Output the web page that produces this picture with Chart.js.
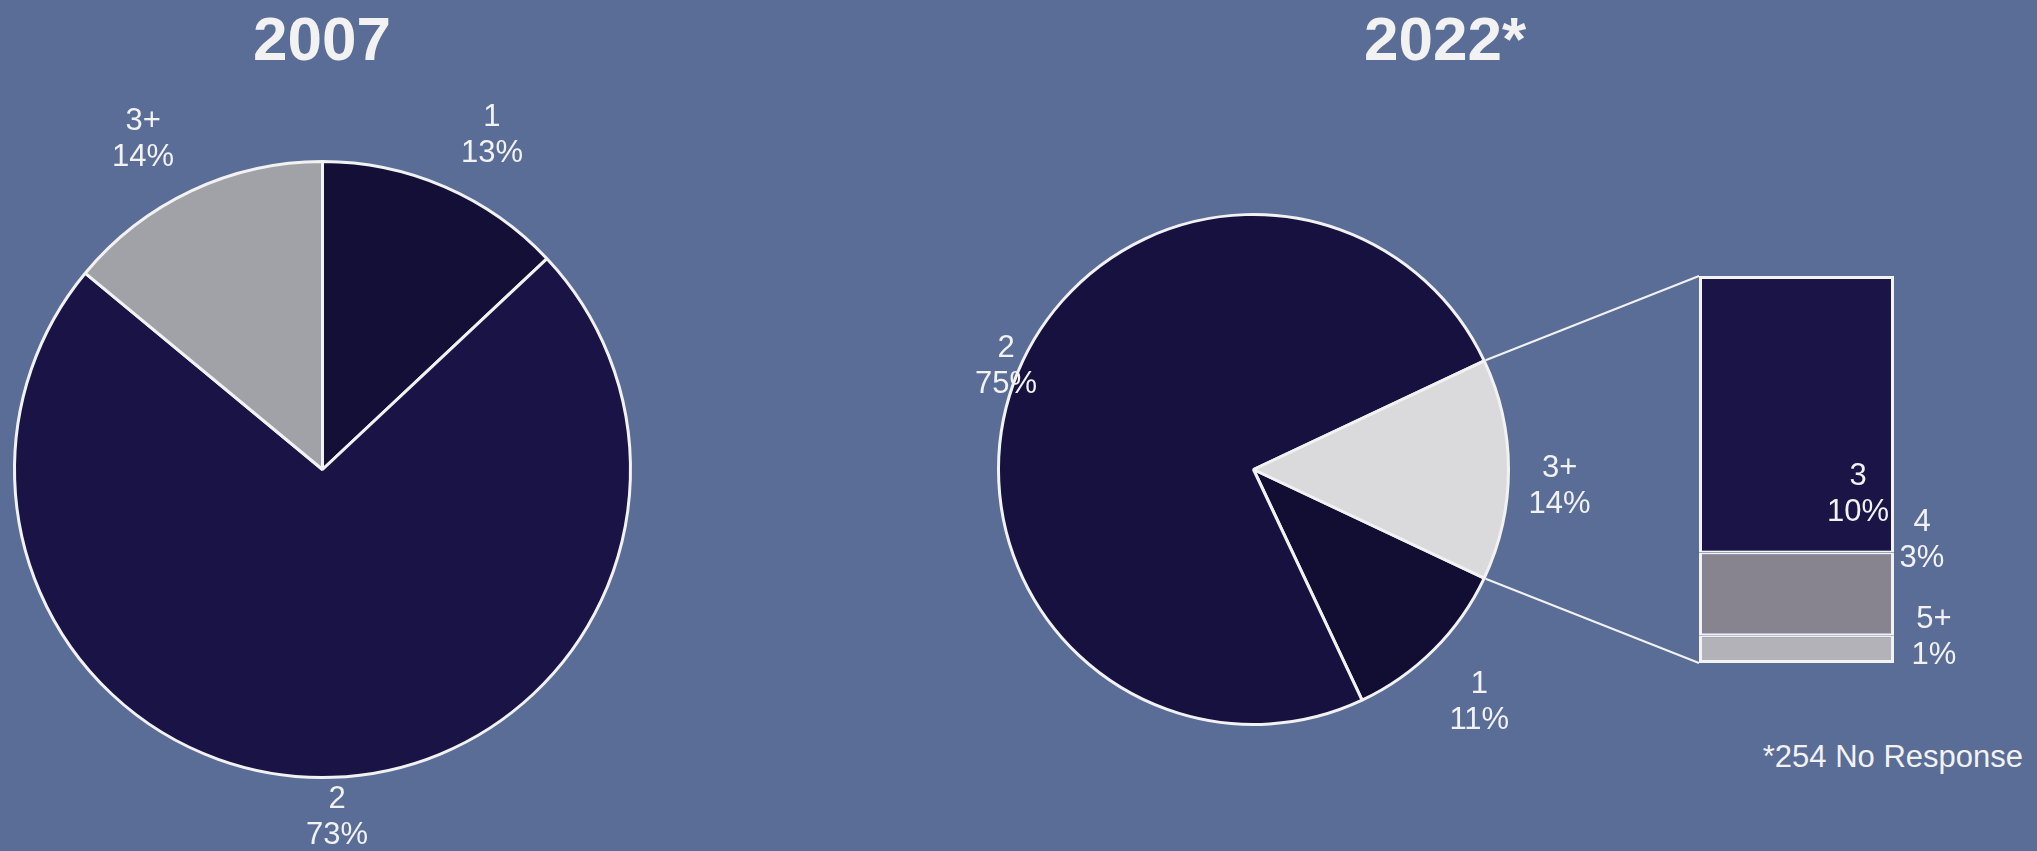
<!DOCTYPE html>
<html>
<head>
<meta charset="utf-8">
<script src="https://cdn.jsdelivr.net/npm/chart.js@4"></script>
<style>
  html, body { margin: 0; padding: 0; }
  body { width: 2037px; height: 851px; background: #5a6d96; position: relative; overflow: hidden;
         font-family: "Liberation Sans", Arial, sans-serif; color: #f2f2f2; }
  canvas { position: absolute; }
  .title { position: absolute; top: 8px; font-weight: bold; font-size: 62px; line-height: 62px;
           transform: translateX(-50%); white-space: nowrap; }
  #note { position: absolute; right: 14px; top: 741px; font-size: 31px; line-height: 31px; white-space: nowrap; }
</style>
</head>
<body>
<div class="title" style="left:322px">2007</div>
<div class="title" style="left:1445px">2022*</div>
<div id="note">*254 No Response</div>
<canvas id="pie2007" width="645" height="851" style="left:0;top:0"></canvas>
<canvas id="pie2022" width="707" height="851" style="left:900px;top:0"></canvas>
<canvas id="bar2022" width="300" height="440" style="left:1673px;top:250px"></canvas>
<canvas id="links" width="2037" height="851" style="left:0;top:0"></canvas>
<script>
// data (percent of households)
const labels2007 = ["1", "2", "3+"];
const values2007 = [13, 73, 14];
const labels2022 = ["1", "2", "3+"];
const values2022 = [11, 75, 14];
// breakdown of 3+ in 2022, bottom to top
const labelsSplit = ["5+", "4", "3"];
const valuesSplit = [1, 3, 10];

const white = "#f2f2f2";
Chart.defaults.font.family = '"Liberation Sans", Arial, sans-serif';

// two-line "name / value%" labels around the pie
const pieLabels = {
  id: "pieLabels",
  afterDatasetsDraw(chart, args, opts) {
    const ctx = chart.ctx;
    const ds = chart.data.datasets[0];
    ctx.save();
    ctx.fillStyle = white;
    ctx.font = '31px "Liberation Sans", Arial, sans-serif';
    ctx.textAlign = "center";
    ctx.textBaseline = "middle";
    chart.getDatasetMeta(0).data.forEach((arc, i) => {
      const [shift, factor] = opts.place[i];
      const a = (arc.startAngle + arc.endAngle) / 2 + shift * Math.PI / 180;
      const r = (arc.outerRadius + 1.5) * factor;
      const x = arc.x + Math.cos(a) * r;
      const y = arc.y + Math.sin(a) * r;
      ctx.fillText(chart.data.labels[i], x, y - 18);
      ctx.fillText(ds.data[i] + "%", x, y + 18);
    });
    ctx.restore();
  }
};

// labels for the stacked column
const barLabels = {
  id: "barLabels",
  afterDatasetsDraw(chart, args, opts) {
    const ctx = chart.ctx;
    ctx.save();
    ctx.fillStyle = white;
    ctx.font = '31px "Liberation Sans", Arial, sans-serif';
    ctx.textAlign = "center";
    ctx.textBaseline = "middle";
    chart.data.datasets.forEach((ds, i) => {
      const el = chart.getDatasetMeta(i).data[0];
      const [dx, dy] = opts.place[i];
      const x = el.x + el.width / 2 + dx;
      const y = (el.y + el.base) / 2 + dy;
      ctx.fillText(ds.label, x, y - 18);
      ctx.fillText(ds.data[0] + "%", x, y + 18);
    });
    ctx.restore();
  }
};

function pieConfig(labels, values, colors, radius, rotation, place) {
  return {
    type: "pie",
    data: {
      labels: labels,
      datasets: [{ data: values, backgroundColor: colors, borderColor: white, borderWidth: 3 }]
    },
    options: {
      responsive: false,
      animation: false,
      events: [],
      rotation: rotation,
      radius: radius,
      layout: { padding: { top: 88 } },
      plugins: { legend: { display: false }, tooltip: { enabled: false }, pieLabels: { place: place } }
    },
    plugins: [pieLabels]
  };
}

const pie07 = new Chart(document.getElementById("pie2007"),
  pieConfig(labels2007, values2007, ["#130f36", "#1a1446", "#a1a2a7"], 308, 0,
    [[3.5, 1.21], [-0.6, 1.124], [-3.3, 1.215]]));

const pie22 = new Chart(document.getElementById("pie2022"),
  pieConfig(labels2022, values2022, ["#110d33", "#16113e", "#dadadd"], 255, 115.2,
    [[0.9, 1.265], [2.8, 1.045], [3.1, 1.195]]));

const splitColors = ["#b3b2b8", "#87848f", "#1b1446"];
const splitBorders = [
  { top: 2, left: 3, right: 3, bottom: 3 },
  { top: 2, left: 3, right: 3, bottom: 2 },
  { top: 3, left: 3, right: 3, bottom: 2 }
];

const bar22 = new Chart(document.getElementById("bar2022"), {
  type: "bar",
  data: {
    labels: [""],
    datasets: labelsSplit.map((name, i) => ({
      label: name,
      data: [valuesSplit[i]],
      backgroundColor: splitColors[i],
      borderColor: white,
      borderWidth: splitBorders[i],
      borderSkipped: false,
      inflateAmount: 0,
      barPercentage: 1,
      categoryPercentage: 1
    }))
  },
  options: {
    responsive: false,
    animation: false,
    events: [],
    layout: { padding: { left: 26, right: 79, top: 26, bottom: 27 } },
    scales: {
      x: { stacked: true, display: false },
      y: { stacked: true, display: false, min: 0, max: 14 }
    },
    plugins: {
      legend: { display: false },
      tooltip: { enabled: false },
      barLabels: { place: [[40, -12], [28, -53], [-36, 80]] }
    }
  },
  plugins: [barLabels]
});

// connector lines from the 3+ slice to the column
const pieCanvas = document.getElementById("pie2022");
const barCanvas = document.getElementById("bar2022");
const arc = pie22.getDatasetMeta(0).data[2];
const ro = arc.outerRadius + 1.5;
const topSeg = bar22.getDatasetMeta(2).data[0];
const botSeg = bar22.getDatasetMeta(0).data[0];
const lx = document.getElementById("links").getContext("2d");
lx.strokeStyle = white;
lx.lineWidth = 2;
lx.beginPath();
lx.moveTo(pieCanvas.offsetLeft + arc.x + Math.cos(arc.startAngle) * ro, pieCanvas.offsetTop + arc.y + Math.sin(arc.startAngle) * ro);
lx.lineTo(barCanvas.offsetLeft + topSeg.x - topSeg.width / 2, barCanvas.offsetTop + topSeg.y);
lx.moveTo(pieCanvas.offsetLeft + arc.x + Math.cos(arc.endAngle) * ro, pieCanvas.offsetTop + arc.y + Math.sin(arc.endAngle) * ro);
lx.lineTo(barCanvas.offsetLeft + botSeg.x - botSeg.width / 2, barCanvas.offsetTop + botSeg.base);
lx.stroke();
</script>
</body>
</html>
